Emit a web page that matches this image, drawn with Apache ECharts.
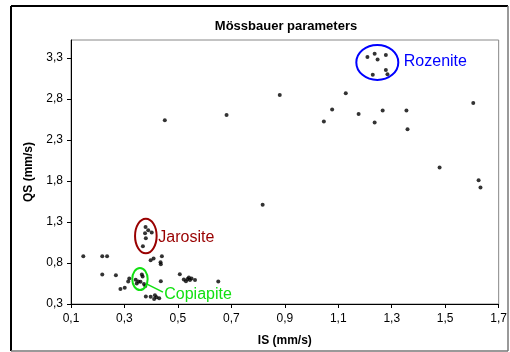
<!DOCTYPE html>
<html><head><meta charset="utf-8">
<script src="https://cdn.jsdelivr.net/npm/echarts@6/dist/echarts.min.js"></script>
<style>html,body{margin:0;padding:0;background:#fff}#c{width:510px;height:352px}</style>
</head><body><div id="c"></div>
<script>
// Isomer shift (IS, mm/s) and quadrupole splitting (QS, mm/s) per sample
const isValues = [
  0.451, 0.682, 0.881,
  1.209, 1.236, 1.278, 1.247, 1.278, 1.284, 1.229,
  1.128, 1.077, 1.046, 1.176, 1.236, 1.266, 1.355, 1.359, 1.605,
  1.479, 1.625, 1.632,
  0.817,
  0.379, 0.389, 0.402, 0.377, 0.380, 0.369,
  0.398, 0.409, 0.440, 0.435, 0.436,
  0.146, 0.217, 0.235, 0.217, 0.268, 0.318, 0.314, 0.301, 0.285,
  0.365, 0.368, 0.342, 0.352, 0.346, 0.360, 0.373, 0.378,
  0.436,
  0.380, 0.398, 0.414, 0.420, 0.430, 0.411,
  0.507, 0.522, 0.530, 0.536, 0.541, 0.545, 0.551, 0.564, 0.651
];
const qsValues = [
  2.540, 2.605, 2.848,
  3.313, 3.353, 3.338, 3.281, 3.155, 3.103, 3.095,
  2.872, 2.673, 2.527, 2.617, 2.515, 2.661, 2.661, 2.430, 2.751,
  1.965, 1.810, 1.722,
  1.511,
  1.239, 1.199, 1.171, 1.163, 1.102, 1.005,
  0.835, 0.855, 0.883, 0.810, 0.786,
  0.883, 0.883, 0.883, 0.661, 0.652, 0.612, 0.573, 0.498, 0.482,
  0.661, 0.635, 0.595, 0.575, 0.550, 0.570, 0.545, 0.520,
  0.579,
  0.391, 0.389, 0.406, 0.381, 0.369, 0.361,
  0.662, 0.598, 0.579, 0.604, 0.624, 0.592, 0.610, 0.592, 0.573
];
const xTicks = [0.1, 0.3, 0.5, 0.7, 0.9, 1.1, 1.3, 1.5, 1.7];
const yTicks = [0.3, 0.8, 1.3, 1.8, 2.3, 2.8, 3.3];
// mineral group annotations: name, centre (IS, QS)
const groupNames = ['Rozenite', 'Jarosite', 'Copiapite'];
const groupIS = [1.246, 0.380, 0.358];
const groupQS = [3.247, 1.130, 0.604];

const FONT = '"Liberation Sans", Arial, sans-serif';
const fmt = v => v.toFixed(1).replace('.', ',');

const chart = echarts.init(document.getElementById('c'), null, {renderer: 'canvas'});
const pts = isValues.map((x, i) => [x, qsValues[i]]);

chart.setOption({
  animation: false,
  backgroundColor: '#fff',
  title: {
    text: 'Mössbauer parameters', left: 281, top: 15, textAlign: 'center',
    textStyle: {fontFamily: FONT, fontSize: 13, fontWeight: 'bold', color: '#000'}
  },
  grid: {left: 71, top: 40, right: 11, bottom: 47, show: true, borderColor: '#888', borderWidth: 1, backgroundColor: '#fff'},
  xAxis: {
    type: 'value', min: 0.1, max: 1.7,
    name: 'IS (mm/s)', nameLocation: 'middle', nameGap: 31,
    nameTextStyle: {fontFamily: FONT, fontSize: 12, fontWeight: 'bold', color: '#000'},
    axisLine: {onZero: false, lineStyle: {color: '#000', width: 1}},
    axisTick: {show: true, length: 4, lineStyle: {color: '#000'}, customValues: xTicks},
    axisLabel: {fontFamily: FONT, fontSize: 12, color: '#000', margin: 9, customValues: xTicks, formatter: fmt},
    splitLine: {show: false}
  },
  yAxis: {
    type: 'value', min: 0.3, max: 3.52,
    name: 'QS (mm/s)', nameLocation: 'middle', nameGap: 36, nameRotate: 90,
    nameTextStyle: {fontFamily: FONT, fontSize: 12, fontWeight: 'bold', color: '#000'},
    axisLine: {show: true, onZero: false, lineStyle: {color: '#000', width: 1}},
    axisTick: {show: true, length: 4, lineStyle: {color: '#000'}, customValues: yTicks},
    axisLabel: {fontFamily: FONT, fontSize: 12, color: '#000', margin: 8, customValues: yTicks, formatter: fmt},
    splitLine: {show: false}
  },
  series: [{
    type: 'scatter', data: pts, symbol: 'circle', symbolSize: 4,
    itemStyle: {color: '#000'}
  }]
});

const colors = ['#0000FF', '#990000', '#11E011'];
const radii = [[21, 17.5], [10.8, 17.3], [7.7, 11]];
const labelOff = [[26.5, -1], [12.5, 1.6], [24.3, 16]];
const els = [];
// outer frame
els.push({type: 'line', shape: {x1: 11, y1: 6, x2: 508, y2: 6}, style: {stroke: '#000', lineWidth: 2}});
els.push({type: 'line', shape: {x1: 11, y1: 6, x2: 11, y2: 351}, style: {stroke: '#000', lineWidth: 2}});
els.push({type: 'line', shape: {x1: 508, y1: 6, x2: 508, y2: 351}, style: {stroke: '#777', lineWidth: 1.5}});
els.push({type: 'line', shape: {x1: 11, y1: 351, x2: 508, y2: 351}, style: {stroke: '#777', lineWidth: 1.5}});
groupNames.forEach((name, i) => {
  const p = chart.convertToPixel({gridIndex: 0}, [groupIS[i], groupQS[i]]);
  els.push({type: 'ellipse', shape: {cx: p[0], cy: p[1], rx: radii[i][0], ry: radii[i][1]},
    style: {fill: 'none', stroke: colors[i], lineWidth: 2}, z: 10});
  els.push({type: 'text', x: p[0] + labelOff[i][0], y: p[1] + labelOff[i][1],
    style: {text: name, fill: colors[i], font: '16px ' + FONT, textVerticalAlign: 'middle', verticalAlign: 'middle', textAlign: 'left'}, z: 10});
  if (name === 'Copiapite') {
    els.push({type: 'line', shape: {x1: p[0] + 7, y1: p[1] + 5, x2: p[0] + 23, y2: p[1] + 13},
      style: {stroke: colors[i], lineWidth: 1.5}, z: 10});
  }
});
chart.setOption({graphic: {elements: els}});
</script>
</body></html>
